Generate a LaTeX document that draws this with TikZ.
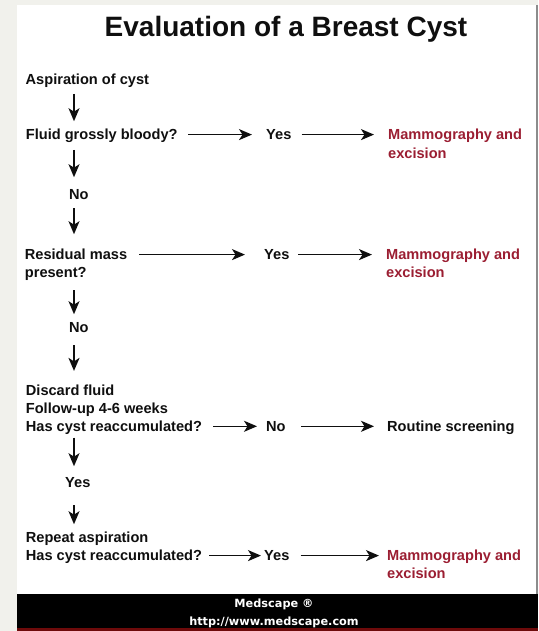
\documentclass[tikz,border=0pt]{standalone}
\usepackage{fontspec}
\setmainfont{Liberation Sans}
\newfontfamily\footfont{DejaVu Sans}
\usetikzlibrary{arrows.meta}
\definecolor{bggray}{RGB}{241,241,236}
\definecolor{edgegray}{RGB}{140,140,140}
\definecolor{outcome}{RGB}{155,30,50}
\definecolor{bandred}{RGB}{110,10,10}
\definecolor{ink}{RGB}{15,15,15}
\begin{document}
\begin{tikzpicture}[x=1pt,y=-1pt,
  lbl/.style={font=\bfseries\fontsize{14.6}{18}\selectfont, text=ink, inner sep=0pt,
              text height=10.4pt, text depth=0pt, anchor=south west},
  outc/.style={lbl, text=outcome},
  arr/.style={-{Stealth[length=13pt,width=11pt,inset=3.5pt]}, line width=1.6pt, draw=ink},
  foot/.style={font=\footfont\bfseries\fontsize{11.3}{13}\selectfont, text=white, inner sep=0pt, anchor=base}
]
% background, panel and footer band
\fill[bggray] (0,0) rectangle (538,631);
\useasboundingbox (0,0) rectangle (538,631);
\fill[white] (16.5,5) rectangle (535.5,594);
\fill[edgegray] (535.5,5) rectangle (538,594);
\fill[black] (16.5,594) rectangle (538,628);
\fill[bandred] (16.5,628) rectangle (538,631);

% title
\node[font=\bfseries\fontsize{28}{32}\selectfont, text=ink, inner sep=0pt, anchor=base] (title) at (286,36.3) {Evaluation of a Breast Cyst};

% left column
\node[lbl] (asp) at (25.5,85) {Aspiration of cyst};
\node[lbl] (q1) at (25.7,140) {Fluid grossly bloody?};
\node[lbl] (no1) at (69,200) {No};
\node[lbl] (q2a) at (24.7,260) {Residual mass};
\node[lbl] (q2b) at (24.7,278) {present?};
\node[lbl] (no2) at (69,333) {No};
\node[lbl] (d1) at (25.7,395.7) {Discard fluid};
\node[lbl] (d2) at (25.7,413.7) {Follow-up 4-6 weeks};
\node[lbl] (q3) at (25.7,431.7) {Has cyst reaccumulated?};
\node[lbl] (y3) at (65,488) {Yes};
\node[lbl] (r1) at (25.7,543) {Repeat aspiration};
\node[lbl] (q4) at (25.7,561) {Has cyst reaccumulated?};

% middle column
\node[lbl] (y1) at (266,140) {Yes};
\node[lbl] (y2) at (264,260) {Yes};
\node[lbl] (no3) at (266,431.7) {No};
\node[lbl] (y4) at (264,561) {Yes};

% right column
\node[outc] (m1a) at (388,140) {Mammography and};
\node[outc] (m1b) at (388,158.5) {excision};
\node[outc] (m2a) at (386,260) {Mammography and};
\node[outc] (m2b) at (386,278) {excision};
\node[lbl] (rs) at (387,431.7) {Routine screening};
\node[outc] (m4a) at (387,561) {Mammography and};
\node[outc] (m4b) at (387,579) {excision};

% vertical arrows
\coordinate (col) at (74,0);
\draw[arr, shorten <=9pt, shorten >=8pt] (asp.south -| col) -- (q1.north -| col);
\draw[arr, shorten <=10pt, shorten >=12pt] (q1.south -| col) -- (no1.north -| col);
\draw[arr, shorten <=8pt, shorten >=15pt] (no1.south -| col) -- (q2a.north -| col);
\draw[arr, shorten <=12pt, shorten >=8pt] (q2b.south -| col) -- (no2.north -| col);
\draw[arr, shorten <=12pt, shorten >=14pt] (no2.south -| col) -- (d1.north -| col);
\draw[arr, shorten <=6pt, shorten >=11pt] (q3.south -| col) -- (y3.north -| col);
\draw[arr, shorten <=17pt, shorten >=8pt] (y3.south -| col) -- (r1.north -| col);

% horizontal arrows
\draw[arr, shorten <=10.6pt, shorten >=14pt] (q1.east) -- (y1.west);
\draw[arr, shorten <=10pt, shorten >=14pt] (y1.east) -- (m1a.west);
\draw[arr, shorten <=12pt, shorten >=19pt] (q2a.east) -- (y2.west);
\draw[arr, shorten <=8.5pt, shorten >=14pt] (y2.east) -- (m2a.west);
\draw[arr, shorten <=11pt, shorten >=9pt] (q3.east) -- (no3.west);
\draw[arr, shorten <=15.5pt, shorten >=13pt] (no3.east) -- (rs.west);
\draw[arr, shorten <=7pt, shorten >=3pt] (q4.east) -- (y4.west);
\draw[arr, shorten <=11pt, shorten >=8pt] (y4.east) -- (m4a.west);

% footer
\node[foot] (brand) at (274,607.5) {Medscape ®};
\node[foot] (url) at (274,625) {http://www.medscape.com};
\end{tikzpicture}
\end{document}
